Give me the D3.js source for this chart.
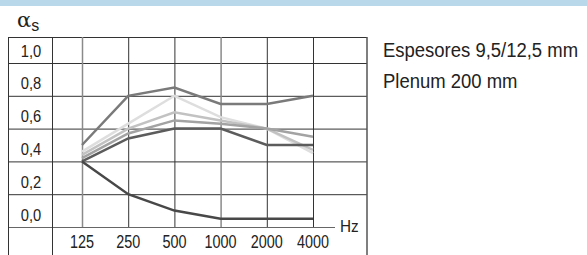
<!DOCTYPE html>
<html>
<head>
<meta charset="utf-8">
<script src="https://cdn.jsdelivr.net/npm/d3@7"></script>
<style>
  body { margin: 0; background: #fff; }
  svg { display: block; font-family: "Liberation Sans", Arial, sans-serif; }
</style>
</head>
<body>
<div id="chart"></div>
<script>
// frequencies (Hz) and absorption per curve
let freqs = ["125", "250", "500", "1000", "2000", "4000"];
let yTicks = [0, 0.2, 0.4, 0.6, 0.8, 1.0];

let curveTop      = [0.50, 0.80, 0.85, 0.75, 0.75, 0.80];
let curveLightest = [0.46, 0.63, 0.80, 0.67, 0.60, 0.45];
let curveLight    = [0.44, 0.60, 0.70, 0.65, 0.60, 0.47];
let curveMedium   = [0.42, 0.57, 0.65, 0.63, 0.60, 0.55];
let curveDark     = [0.40, 0.54, 0.60, 0.60, 0.50, 0.50];
let curveLow      = [0.40, 0.20, 0.10, 0.05, 0.05, 0.05];

let noteLines = ["Espesores 9,5/12,5 mm", "Plenum 200 mm"];

// drawing order: light ones first so darker lines sit on top
let curves = [
    {values: curveLightest, colour: "#dedede"},
    {values: curveLight, colour: "#c2c2c2"},
    {values: curveMedium, colour: "#a3a3a3"},
    {values: curveTop, colour: "#7a7a7a"},
    {values: curveDark, colour: "#5c5c5c"},
    {values: curveLow, colour: "#484848"}
];

let width = 587, height = 255;
let frame = {left: 8, labelCol: 52, top: 37, right: 367, bottom: 255};

let svg = d3.select("#chart").append("svg")
    .attr("width", width)
    .attr("height", height);

// light blue band at the top
svg.append("rect")
    .attr("x", 0).attr("y", 0)
    .attr("width", width).attr("height", 6)
    .attr("fill", "#b9d8e9");

let x = d3.scalePoint().domain(freqs).range([82, 313]);
let y = d3.scaleLinear().domain([0, 1]).range([227, 63]);

// no narrow font installed, so squeeze text horizontally
function squeeze(px, py, sx) {
    return `translate(${px},${py}) scale(${sx},1)`;
}

let grid = svg.append("g").attr("class", "grid");

// horizontal rules
grid.append("line")
    .attr("x1", frame.left).attr("x2", frame.right)
    .attr("y1", frame.top + 0.5).attr("y2", frame.top + 0.5)
    .attr("stroke", "#333").attr("stroke-width", 1);

grid.selectAll(".hline")
    .data(yTicks)
    .enter()
    .append("line")
    .attr("class", "hline")
    .attr("x1", frame.left)
    .attr("x2", d => d === 0 ? 335 : frame.right)
    .attr("y1", d => y(d) + 0.5)
    .attr("y2", d => y(d) + 0.5)
    .attr("stroke", d => d === 0 ? "#666" : "#333")
    .attr("stroke-width", 1);

// outer verticals
[frame.left, frame.labelCol].forEach(px => {
    grid.append("line")
        .attr("x1", px + 0.5).attr("x2", px + 0.5)
        .attr("y1", frame.top).attr("y2", frame.bottom)
        .attr("stroke", "#333").attr("stroke-width", 1);
});
grid.append("line")
    .attr("x1", frame.right).attr("x2", frame.right)
    .attr("y1", frame.top).attr("y2", frame.bottom)
    .attr("stroke", "#555").attr("stroke-width", 1.5);

// frequency verticals
grid.selectAll(".vline")
    .data(freqs)
    .enter()
    .append("line")
    .attr("class", "vline")
    .attr("x1", d => x(d) + 0.5)
    .attr("x2", d => x(d) + 0.5)
    .attr("y1", frame.top)
    .attr("y2", y(0))
    .attr("stroke", d => (d === "125" || d === "1000") ? "#8a8a8a" : "#333")
    .attr("stroke-width", d => (d === "125" || d === "1000") ? 1.5 : 1);

// y labels
svg.selectAll(".ylabel")
    .data(yTicks)
    .enter()
    .append("text")
    .attr("class", "ylabel")
    .attr("transform", d => squeeze((frame.left + frame.labelCol) / 2 + 1, y(d) - 6.5, 0.92))
    .attr("text-anchor", "middle")
    .attr("font-size", 16)
    .attr("fill", "#222")
    .text(d => d3.format(".1f")(d).replace(".", ","));

// x labels
svg.selectAll(".xlabel")
    .data(freqs)
    .enter()
    .append("text")
    .attr("class", "xlabel")
    .attr("transform", d => squeeze(x(d), 248, 0.8))
    .attr("text-anchor", "middle")
    .attr("font-size", 18)
    .attr("fill", "#222")
    .text(d => d);

svg.append("text")
    .attr("transform", squeeze(340, 232, 0.9))
    .attr("font-size", 17)
    .attr("fill", "#222")
    .text("Hz");

// alpha_s symbol
let alpha = svg.append("text")
    .attr("x", 17).attr("y", 27)
    .attr("fill", "#222");
alpha.append("tspan")
    .attr("font-family", "'DejaVu Serif', 'Liberation Serif', serif")
    .attr("font-size", 21)
    .text("α");
alpha.append("tspan")
    .attr("font-size", 16)
    .attr("dy", 4)
    .text("s");

// curves
let line = d3.line()
    .x((d, i) => x(freqs[i]))
    .y(d => y(d));

svg.selectAll(".curve")
    .data(curves)
    .enter()
    .append("path")
    .attr("class", "curve")
    .attr("d", d => line(d.values))
    .attr("fill", "none")
    .attr("stroke", d => d.colour)
    .attr("stroke-width", 2.5)
    .attr("stroke-linejoin", "miter");

// note on the right
svg.selectAll(".note")
    .data(noteLines)
    .enter()
    .append("text")
    .attr("class", "note")
    .attr("transform", (d, i) => squeeze(383, 57 + i * 31, 0.88))
    .attr("font-size", 21)
    .attr("fill", "#222")
    .text(d => d);
</script>
</body>
</html>
